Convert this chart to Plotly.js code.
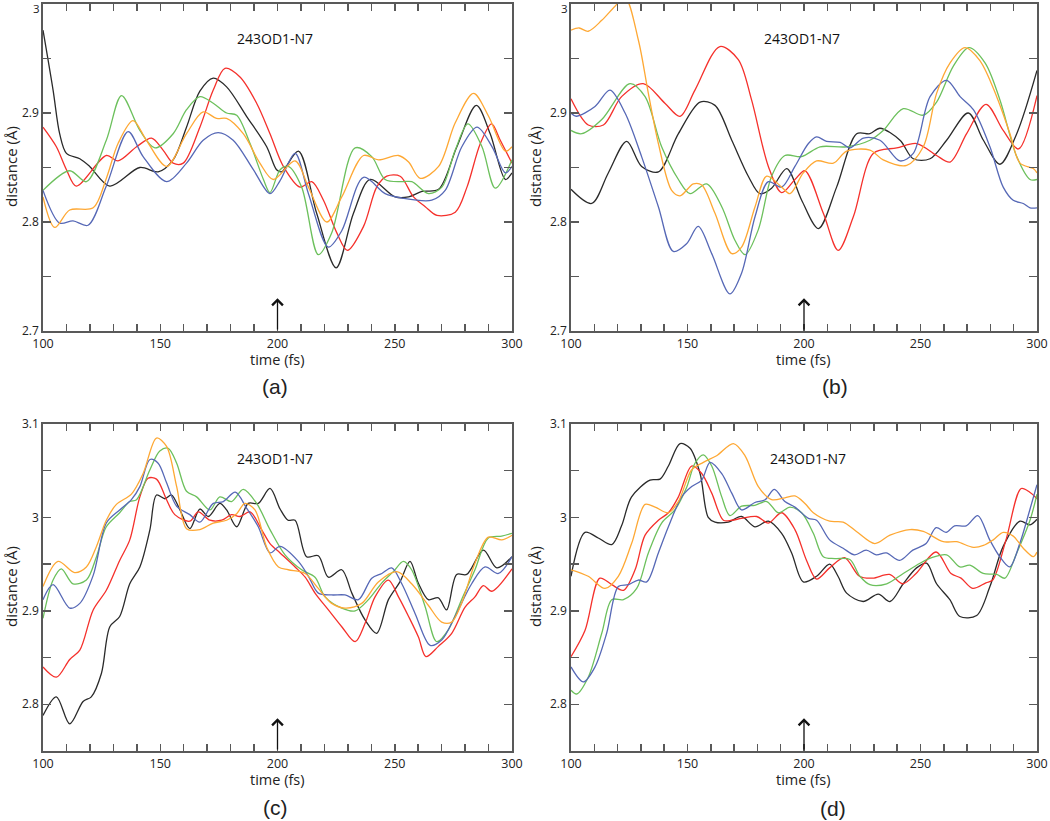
<!DOCTYPE html>
<html>
<head>
<meta charset="utf-8">
<script src="https://cdn.plot.ly/plotly-3.0.1.min.js"></script>
<style>html,body{margin:0;padding:0;background:#fff;}#chart{width:1050px;height:821px;}</style>
</head>
<body>
<div id="chart"></div>
<script>
// ---------- Panel (a) ----------
const a_black_t = [100,104.3,107.1,110,115.7,119.9,128.5,141.3,149.1,155.5,161.2,166.9,172.6,178.3,186.8,195.4,199.6,201.8,208.9,216.7,225,232.4,239.5,250.2,255.9,261.6,268.7,276.5,284.8,290.7,297.2,300];
const a_black_d = [2.976,2.921,2.881,2.863,2.858,2.851,2.833,2.850,2.846,2.857,2.887,2.920,2.932,2.924,2.897,2.869,2.848,2.846,2.865,2.808,2.758,2.808,2.839,2.823,2.823,2.828,2.830,2.869,2.907,2.881,2.839,2.845];
const a_red_t = [100,105.7,110,114.2,127,132,139.9,146.3,151.2,155.5,159.8,166.9,172.6,177.6,184,191.1,196.8,202.5,209.6,214.6,219.6,225.3,229.8,236.7,242.3,246.6,252.3,258,263,268,275.8,280.8,286.5,291.3,295,300];
const a_red_d = [2.887,2.869,2.848,2.833,2.861,2.856,2.869,2.877,2.866,2.854,2.854,2.887,2.921,2.941,2.933,2.909,2.881,2.851,2.832,2.837,2.820,2.790,2.774,2.796,2.832,2.842,2.842,2.823,2.814,2.806,2.809,2.832,2.872,2.890,2.875,2.854];
const a_green_t = [100,111.4,118.5,127,133.5,141.3,147.7,155.5,161.2,166.9,172.6,178.3,182.6,188.3,194,196.8,201.1,204.6,210.3,217.4,223.1,233.1,240.2,245.9,253,257.3,264.4,270.1,275.8,281.2,287.2,292.9,300];
const a_green_d = [2.829,2.847,2.837,2.875,2.916,2.884,2.868,2.881,2.903,2.915,2.909,2.900,2.898,2.872,2.839,2.827,2.848,2.851,2.832,2.770,2.790,2.868,2.860,2.839,2.837,2.837,2.826,2.832,2.866,2.890,2.869,2.831,2.857];
const a_blue_t = [100,107.1,112.8,119.2,127,136.3,142.7,152.7,161.2,168.3,174.7,181.1,189.7,196.8,201.1,207.5,213.2,221.7,227.4,236.7,245.9,253,265.8,271.5,278.6,285.1,291.5,297.2,300];
const a_blue_d = [2.829,2.799,2.801,2.797,2.833,2.883,2.860,2.837,2.854,2.875,2.882,2.875,2.848,2.826,2.838,2.863,2.826,2.777,2.792,2.841,2.826,2.822,2.820,2.829,2.869,2.887,2.869,2.845,2.851];
const a_orange_t = [100,105,111.4,121.4,127,132,138.4,144.1,152.7,161.2,168.3,174,178.3,185.4,192.5,198.2,207.5,213.2,221,227.4,236.7,243.1,251.6,255.9,260.9,268.7,275.8,283.6,290,297.2,300];
const a_orange_d = [2.823,2.795,2.811,2.813,2.840,2.872,2.893,2.875,2.851,2.881,2.901,2.895,2.895,2.881,2.854,2.839,2.856,2.832,2.800,2.823,2.861,2.857,2.861,2.855,2.840,2.851,2.891,2.918,2.897,2.865,2.869];

// ---------- Panel (b) ----------
const b_black_t = [100,108.9,116,123.9,130.3,137.5,146.1,155.4,161.8,169,176.1,181.1,186.1,192.6,199,206.2,214,222.6,228.3,232.6,241.2,246.9,254.1,261.2,270.5,277,284.1,291.3,300];
const b_black_d = [2.830,2.817,2.845,2.874,2.851,2.846,2.881,2.910,2.907,2.875,2.842,2.826,2.831,2.849,2.820,2.794,2.832,2.881,2.881,2.886,2.875,2.858,2.858,2.875,2.900,2.875,2.853,2.881,2.939];
const b_red_t = [100,107.4,113.9,121.7,131,140.3,146.8,153.2,163.9,171.8,177.5,184.7,190.4,196.1,200.4,208.3,214.7,221.2,229.8,239.8,248.4,256.9,262.7,269.8,278.1,285.5,292,300];
const b_red_d = [2.913,2.889,2.889,2.915,2.927,2.909,2.897,2.921,2.961,2.949,2.912,2.851,2.827,2.839,2.847,2.808,2.774,2.805,2.863,2.868,2.872,2.861,2.855,2.881,2.908,2.884,2.867,2.916];
const b_green_t = [100,104.6,113.2,125.3,131.8,138.9,146.1,151.1,158.2,164.7,170.4,174.7,180.4,186.1,191.8,199,206.9,218.3,228.3,234,242.6,251.2,256.9,264.1,270.8,277.7,284.1,291.3,297,300];
const b_green_d = [2.884,2.881,2.894,2.927,2.915,2.869,2.839,2.826,2.835,2.814,2.783,2.770,2.793,2.842,2.861,2.860,2.869,2.869,2.875,2.884,2.904,2.898,2.910,2.943,2.960,2.946,2.912,2.860,2.839,2.839];
const b_blue_t = [100,102.2,110.3,116.7,123.2,130.3,137.5,143.9,149.6,154.6,160.4,168.2,173.2,179,184.7,190.4,196.1,201.9,205.4,209.7,215.5,219.7,225.5,232.6,241.2,246.9,254.1,261.2,267,272.7,279.8,285.5,289.8,294.1,297,300];
const b_blue_d = [2.900,2.897,2.906,2.921,2.900,2.860,2.814,2.773,2.780,2.796,2.771,2.734,2.753,2.805,2.837,2.832,2.851,2.872,2.878,2.874,2.873,2.868,2.877,2.875,2.856,2.863,2.915,2.930,2.915,2.903,2.869,2.832,2.820,2.817,2.813,2.813];
const b_orange_t = [100,103.5,107.4,113.2,118.9,123.2,128.9,133.2,137.5,143.2,146.8,152.5,156.1,161.8,169,173.2,179,184,190.4,194,199.7,205.4,212.6,218.3,228.3,234,244.1,251.2,256.9,262.7,269.1,275.5,282.7,288.4,292.7,298.4,300];
const b_orange_d = [2.976,2.978,2.975,2.985,2.998,3.006,2.967,2.918,2.872,2.829,2.824,2.835,2.834,2.808,2.771,2.777,2.814,2.842,2.832,2.826,2.845,2.856,2.854,2.865,2.866,2.857,2.852,2.869,2.918,2.946,2.960,2.948,2.915,2.881,2.854,2.849,2.845];

// ---------- Panel (c) ----------
const c_black_t = [100,105.7,111.4,117.1,120.6,124.9,128.5,132.7,137,141.3,145.6,148.4,152,154.8,158.4,162.6,166.9,170.5,175.4,178.3,182.6,187.5,191.8,196.8,201.1,204.5,207.5,212.4,217.4,221.7,227.4,231.7,237.4,242.3,247.3,252.2,256.5,260,264.3,268.6,272.1,276.4,280.7,287.8,293.5,300];
const c_black_d = [2.788,2.808,2.779,2.803,2.808,2.833,2.883,2.894,2.929,2.947,2.987,3.024,3.020,3.024,3.008,2.988,3.009,3.001,3.015,3.008,2.990,3.015,3.015,3.031,3.009,2.997,2.997,2.958,2.959,2.936,2.944,2.919,2.890,2.876,2.912,2.931,2.953,2.930,2.912,2.914,2.901,2.939,2.939,2.965,2.946,2.958];
const c_red_t = [100,105.7,111.4,115.7,121.4,127,132.7,137,141.3,144.8,148.4,152.7,156.2,162.6,166.2,171.2,176.2,180.4,184,188.3,193.2,196.8,201.1,207.5,211.8,216,221.7,227.4,233.1,237.4,241.6,247.3,251.6,255.9,260.1,263.3,268.6,274.3,280,284.2,287.8,291.4,300];
const c_red_d = [2.840,2.829,2.848,2.858,2.901,2.922,2.954,2.976,3.022,3.042,3.041,3.019,3.003,2.996,3.006,2.997,2.997,3.003,3.001,3.006,2.987,2.972,2.962,2.947,2.936,2.919,2.901,2.883,2.867,2.887,2.915,2.933,2.915,2.894,2.872,2.851,2.862,2.876,2.904,2.915,2.927,2.921,2.945];
const c_green_t = [100,104.3,107.8,112.8,118.5,122.8,127,132.7,137,139.9,145.6,149.8,153.4,157,161.2,165.5,171.2,175.4,180.4,185.4,191.1,196.8,203.2,210.3,216,220.3,227.4,233.1,238.8,244.5,249.4,253.7,257.2,262.9,267.9,272.9,278.5,284.2,289.9,295.6,300];
const c_green_d = [2.892,2.933,2.945,2.929,2.933,2.958,2.990,3.005,3.017,3.019,3.051,3.071,3.074,3.058,3.028,3.022,3.008,3.022,3.017,3.030,3.015,2.987,2.960,2.944,2.936,2.915,2.903,2.900,2.912,2.930,2.942,2.953,2.944,2.905,2.867,2.880,2.912,2.944,2.978,2.980,2.983];
const c_blue_t = [100,104.3,111.4,115.7,121.4,127,132.7,137.7,141.3,145.6,149.1,152.7,157,162.6,166.9,172.6,176.9,182,186.8,191.8,196.8,201.1,208.9,213.2,217.4,223.1,228.8,234.5,240.2,244.5,248.7,253,258.7,265.1,270.1,275.7,282.8,288.5,294.2,300];
const c_blue_d = [2.912,2.928,2.903,2.908,2.938,2.994,3.008,3.019,3.033,3.062,3.058,3.037,3.012,3.003,2.995,3.015,3.017,3.027,3.010,2.990,2.962,2.969,2.953,2.937,2.919,2.917,2.917,2.912,2.935,2.940,2.946,2.929,2.897,2.863,2.869,2.894,2.929,2.947,2.940,2.958];
const c_orange_t = [100,106.4,113.5,118.5,122.8,127,131.3,137.7,142.7,148.4,152.7,157,161.2,166.9,172.6,178.3,182.6,186.1,190.4,195.4,200.4,204.6,211.8,217.4,223.1,228.8,235.9,243,250.9,257.2,264.3,270,274.3,278.5,284.2,289.9,295.6,300];
const c_orange_d = [2.926,2.953,2.941,2.947,2.969,2.997,3.014,3.025,3.047,3.085,3.076,3.033,2.988,2.987,2.994,2.997,3.004,3.015,3.008,2.968,2.947,2.944,2.940,2.924,2.908,2.903,2.908,2.931,2.942,2.929,2.906,2.888,2.888,2.908,2.951,2.979,2.976,2.981];

// ---------- Panel (d) ----------
const d_black_t = [100,106,111.7,117.5,121.7,126,133.9,138.2,141.8,146.8,151.1,155.4,158.9,161.8,167.5,173.2,178.9,184.7,190.4,194.7,199.7,205.4,211,214.6,218.3,225.4,231.9,236.9,242.6,248.3,252.6,256.9,262.6,266.9,274.1,279.8,285.5,292.7,297,300];
const d_black_d = [2.937,2.984,2.978,2.971,2.991,3.022,3.040,3.041,3.055,3.079,3.074,3.047,3.000,2.995,2.995,3.001,2.990,2.996,2.983,2.962,2.931,2.937,2.950,2.937,2.919,2.910,2.918,2.910,2.929,2.946,2.951,2.929,2.912,2.894,2.895,2.926,2.969,2.996,2.992,2.998];
const d_red_t = [100,106,112.4,117.5,122.5,127.5,131.8,137.5,141.8,146.1,151.8,156.1,160.4,165.4,169,173.2,179.7,184.7,190.4,196.1,201.1,205.4,211,217.4,223.8,229.5,236.7,242.4,248.1,256.7,263.1,267.4,272.4,278.1,281,286.7,293.2,296.9,300];
const d_red_d = [2.851,2.879,2.935,2.928,2.922,2.944,2.981,2.997,3.005,3.022,3.055,3.047,3.026,2.997,2.997,2.999,3.001,2.994,3.005,2.987,2.954,2.934,2.946,2.957,2.937,2.935,2.939,2.929,2.940,2.963,2.940,2.935,2.924,2.930,2.933,2.976,3.031,3.027,3.020];
const d_green_t = [100,102.4,107.4,113.2,117.5,122.5,128.2,133.2,138.9,144.6,149.6,153.2,156.8,160.4,164.7,168.2,173.2,178.9,184,189,194,199,204,208.3,213.3,219.7,224,228.3,235.5,242.6,249.8,254.8,261.2,266.9,271.2,276.9,282.7,286.2,291.3,297,300];
const d_green_d = [2.815,2.811,2.829,2.876,2.912,2.912,2.924,2.962,2.994,3.008,3.032,3.058,3.067,3.055,3.022,3.002,3.012,3.013,3.017,3.005,3.011,3.005,2.983,2.958,2.956,2.955,2.937,2.928,2.929,2.940,2.951,2.957,2.960,2.947,2.949,2.940,2.939,2.935,2.962,2.997,3.025];
const d_blue_t = [100,105.3,110.3,115.3,120.3,124.6,128.9,132.5,137.5,141.8,147.5,151.8,156.1,159.7,164.7,169,173.2,178.9,183.3,187.3,191.8,196.1,201.9,205.4,211,216.8,221.7,226.7,231,235.3,241,246.7,252.4,256.7,261,264.6,269.6,274.6,279.7,284,288.3,292.6,296.9,300];
const d_blue_d = [2.840,2.824,2.840,2.876,2.926,2.928,2.933,2.931,2.962,2.990,3.022,3.033,3.040,3.059,3.047,3.026,3.008,3.016,3.019,3.030,3.017,3.011,2.999,2.997,2.976,2.967,2.960,2.965,2.960,2.962,2.954,2.965,2.972,2.989,2.984,2.991,2.991,3.002,2.976,2.958,2.947,2.972,3.008,3.035];
const d_orange_t = [100,107.4,114.6,120.3,126,131.8,136.1,141.8,146.1,151.8,156.8,162.5,169.7,174.7,180.4,186.1,191.8,196.1,200.4,204,211,216.8,222.5,230.4,236.9,245.5,251.2,259.8,265.5,272.7,277,281.2,285.5,289.8,294.1,298.4,300];
const d_orange_d = [2.944,2.937,2.924,2.937,2.972,3.014,3.011,3.005,3.017,3.051,3.059,3.066,3.079,3.066,3.033,3.019,3.021,3.023,3.015,3.005,2.996,2.995,2.985,2.972,2.981,2.987,2.985,2.974,2.974,2.968,2.970,2.976,2.984,2.980,2.967,2.958,2.963];

// ---------- Labels & ticks ----------
const panelLetters = ['(a)', '(b)', '(c)', '(d)'];
const bondLabel = '243OD1-N7';
const xTitle = 'time (fs)';
const yTitle = 'distance (Å)';
const yRanges = [[2.7, 3.0], [2.7, 3.0], [2.75, 3.1], [2.75, 3.1]];
const yTickTop = [2.7, 2.8, 2.9, 3.0];
const yTickTopText = ['2.7', '2.8', '2.9', '3'];
const yTickBottom = [2.8, 2.9, 3.0, 3.1];
const yTickBottomText = ['2.8', '2.9', '3', '3.1'];
const xTicks = [100, 150, 200, 250, 300];
const xTickText = ['100', '150', '200', '250', '300'];
const xRange = [100, 300];
const eventTime = 200;

// ---------- Build figure ----------
const colors = {black:'#2a2a2a', red:'#f5302b', green:'#6cc05c', blue:'#5668b6', orange:'#fea834'};
const panelData = [
  [[a_black_t,a_black_d,'black'],[a_red_t,a_red_d,'red'],[a_green_t,a_green_d,'green'],[a_blue_t,a_blue_d,'blue'],[a_orange_t,a_orange_d,'orange']],
  [[b_black_t,b_black_d,'black'],[b_red_t,b_red_d,'red'],[b_green_t,b_green_d,'green'],[b_blue_t,b_blue_d,'blue'],[b_orange_t,b_orange_d,'orange']],
  [[c_black_t,c_black_d,'black'],[c_red_t,c_red_d,'red'],[c_green_t,c_green_d,'green'],[c_blue_t,c_blue_d,'blue'],[c_orange_t,c_orange_d,'orange']],
  [[d_black_t,d_black_d,'black'],[d_red_t,d_red_d,'red'],[d_green_t,d_green_d,'green'],[d_blue_t,d_blue_d,'blue'],[d_orange_t,d_orange_d,'orange']]
];
const W = 1050, H = 821;
const xDom = [[43/W, 512/W], [571/W, 1037/W], [43/W, 512/W], [571/W, 1037/W]];
const yDom = [[1-331/H, 1-4/H], [1-331/H, 1-4/H], [1-751/H, 1-424/H], [1-751/H, 1-424/H]];
const labelPos = [[275, 387], [835, 387], [275, 807], [833, 808]];
const xTitlePos = [[277, 359], [803, 359], [277, 779], [803, 779]];
const yTitlePos = [[11, 167], [535, 167], [11, 587], [535, 587]];
const bondPos = [[199, 0.896], [199, 0.896], [199, 0.896], [201.7, 0.896]];
const arrowFrac = 0.1;

const FONT = 'Open Sans, Noto Sans, Liberation Sans, sans-serif';
const AX = '#595959';
const traces = [];
const layout = {
  width: W, height: H,
  margin: {l:0, r:0, t:0, b:0},
  paper_bgcolor: '#fff', plot_bgcolor: '#fff',
  showlegend: false,
  font: {family: FONT, color: '#222'},
  annotations: []
};

panelData.forEach((series, i) => {
  const n = i === 0 ? '' : String(i + 1);
  const xa = 'x' + n, ya = 'y' + n;
  series.forEach(s => {
    traces.push({
      type: 'scatter', mode: 'lines', x: s[0], y: s[1], xaxis: xa, yaxis: ya,
      line: {color: colors[s[2]], width: 1.3, shape: 'spline', smoothing: 0.9},
      hoverinfo: 'skip'
    });
  });
  const yr = yRanges[i];
  const top = i < 2;
  // top-edge label of the upper panels is placed as a separate text so it is not clipped by the page edge
  const yText = top ? yTickTopText.map((t, k) => k === yTickTopText.length - 1 ? '' : t) : yTickBottomText;
  layout['xaxis' + n] = {
    domain: xDom[i], anchor: ya, range: xRange, tickmode: 'array', tickvals: xTicks, ticktext: xTickText,
    ticks: 'inside', ticklen: 7, tickwidth: 1.5, tickcolor: AX,
    minor: {tickmode: 'linear', tick0: 100, dtick: 10, ticks: 'inside', ticklen: 7, tickwidth: 1.5, tickcolor: AX, showgrid: false},
    showline: true, linecolor: AX, linewidth: 1.8, mirror: 'allticks',
    showgrid: false, zeroline: false, fixedrange: true, ticklabeloverflow: 'allow',
    tickfont: {size: 12.5, color: '#222', family: FONT}
  };
  layout['yaxis' + n] = {
    domain: yDom[i], anchor: xa, range: yr, tickmode: 'array',
    tickvals: top ? yTickTop : yTickBottom, ticktext: yText,
    ticks: 'inside', ticklen: 8, tickwidth: 1.5, tickcolor: AX,
    minor: {tickmode: 'linear', tick0: 2.7, dtick: 0.05, ticks: 'inside', ticklen: 8, tickwidth: 1.5, tickcolor: AX, showgrid: false},
    showline: true, linecolor: AX, linewidth: 1.8, mirror: 'allticks',
    showgrid: false, zeroline: false, fixedrange: true, ticklabeloverflow: 'allow',
    tickfont: {size: 12, color: '#222', family: FONT}
  };
  if (top) {
    layout.annotations.push({
      xref: 'paper', yref: 'paper', x: (xDom[i][0] * W - 2) / W, y: 1,
      xanchor: 'right', yanchor: 'top', text: yTickTopText[yTickTopText.length - 1], showarrow: false,
      borderpad: 0, font: {size: 11.5, color: '#222', family: FONT}
    });
  }
  // axis titles
  layout.annotations.push({
    xref: 'paper', yref: 'paper', x: xTitlePos[i][0] / W, y: 1 - xTitlePos[i][1] / H,
    xanchor: 'center', yanchor: 'middle', text: xTitle, showarrow: false,
    font: {size: 14.5, color: '#222', family: FONT}
  });
  layout.annotations.push({
    xref: 'paper', yref: 'paper', x: yTitlePos[i][0] / W, y: 1 - yTitlePos[i][1] / H,
    xanchor: 'center', yanchor: 'middle', text: yTitle, showarrow: false, textangle: -90,
    font: {size: 15, color: '#222', family: FONT}
  });
  // bond label
  layout.annotations.push({
    xref: xa, yref: ya, x: bondPos[i][0], y: yr[0] + bondPos[i][1] * (yr[1] - yr[0]),
    text: bondLabel, showarrow: false, font: {size: 14, color: '#111', family: FONT}
  });
  // arrow at event time
  layout.annotations.push({
    xref: xa, yref: ya, axref: xa, ayref: ya,
    x: eventTime, y: yr[0] + arrowFrac * (yr[1] - yr[0]),
    ax: eventTime, ay: yr[0],
    text: '', showarrow: true, arrowhead: 4, arrowsize: 1.6, arrowwidth: 1.3, arrowcolor: '#111', standoff: 0, startstandoff: 0
  });
  // panel letter
  layout.annotations.push({
    xref: 'paper', yref: 'paper', x: labelPos[i][0] / W, y: 1 - labelPos[i][1] / H,
    xanchor: 'center', yanchor: 'middle',
    text: panelLetters[i], showarrow: false, font: {size: 21, color: '#222', family: 'Liberation Sans, Arial, sans-serif'}
  });
});

Plotly.newPlot('chart', traces, layout, {staticPlot: true, displayModeBar: false});
</script>
</body>
</html>
